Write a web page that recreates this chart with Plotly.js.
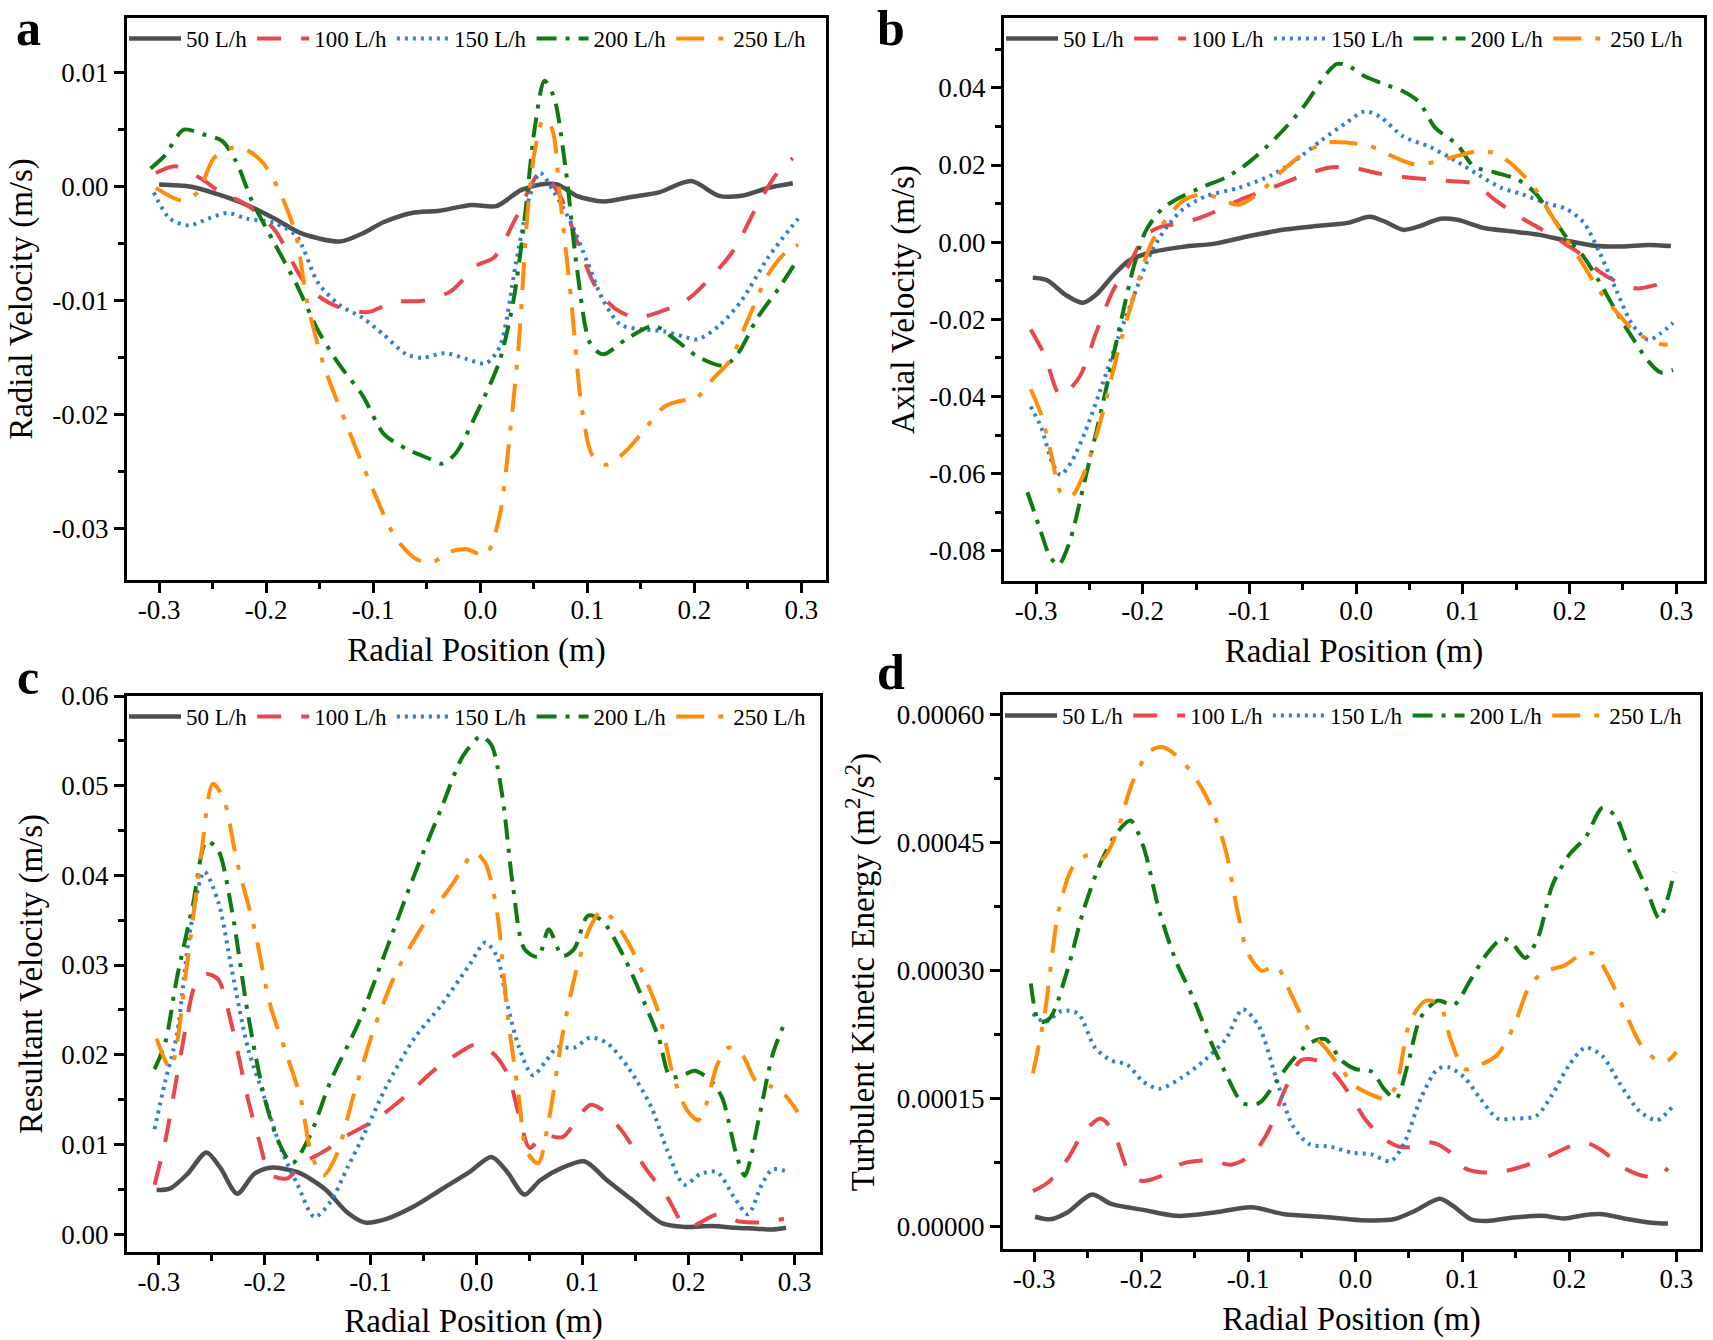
<!DOCTYPE html>
<html>
<head>
<meta charset="utf-8">
<script src="https://cdn.plot.ly/plotly-3.0.1.min.js"></script>
<style>html,body{margin:0;padding:0;background:#fff;overflow:hidden;}#chart{width:1713px;height:1340px;}</style>
</head>
<body>
<div id="chart"></div>
<script>
// ---------- series names ----------
const seriesNames = ["50 L/h", "100 L/h", "150 L/h", "200 L/h", "250 L/h"];

// ---------- tick labels ----------
const xTickVals = [-0.3, -0.2, -0.1, 0.0, 0.1, 0.2, 0.3];
const xTickText = ["-0.3", "-0.2", "-0.1", "0.0", "0.1", "0.2", "0.3"];
const aTickVals = [-0.03, -0.02, -0.01, 0.0, 0.01];
const aTickText = ["-0.03", "-0.02", "-0.01", "0.00", "0.01"];
const bTickVals = [-0.08, -0.06, -0.04, -0.02, 0.0, 0.02, 0.04];
const bTickText = ["-0.08", "-0.06", "-0.04", "-0.02", "0.00", "0.02", "0.04"];
const cTickVals = [0.0, 0.01, 0.02, 0.03, 0.04, 0.05, 0.06];
const cTickText = ["0.00", "0.01", "0.02", "0.03", "0.04", "0.05", "0.06"];
const dTickVals = [0.0, 0.00015, 0.0003, 0.00045, 0.0006];
const dTickText = ["0.00000", "0.00015", "0.00030", "0.00045", "0.00060"];

// ---------- panel a : Radial velocity ----------
const a50x = [-0.300,-0.270,-0.244,-0.218,-0.192,-0.167,-0.131,-0.110,-0.090,-0.064,-0.038,-0.008,0.015,0.038,0.056,0.072,0.090,0.115,0.141,0.167,0.197,0.223,0.244,0.269,0.292];
const a50y = [0.0002,0.0000,-0.0007,-0.0016,-0.0028,-0.0041,-0.0048,-0.0041,-0.0031,-0.0023,-0.0021,-0.0016,-0.0017,-0.0003,0.0002,0.0002,-0.0008,-0.0013,-0.0009,-0.0005,0.0005,-0.0008,-0.0008,-0.0001,0.0003];
const a100x = [-0.303,-0.285,-0.259,-0.244,-0.218,-0.192,-0.167,-0.151,-0.131,-0.105,-0.080,-0.054,-0.028,-0.003,0.013,0.033,0.056,0.074,0.090,0.108,0.126,0.146,0.167,0.192,0.218,0.238,0.259,0.279,0.292];
const a100y = [0.0012,0.0018,0.0006,-0.0004,-0.0016,-0.0038,-0.0080,-0.0096,-0.0106,-0.0110,-0.0101,-0.0100,-0.0092,-0.0069,-0.0062,-0.0028,0.0012,-0.0007,-0.0047,-0.0088,-0.0107,-0.0115,-0.0110,-0.0100,-0.0077,-0.0054,-0.0016,0.0014,0.0025];
const a150x = [-0.305,-0.290,-0.272,-0.254,-0.236,-0.218,-0.192,-0.172,-0.151,-0.131,-0.110,-0.090,-0.069,-0.054,-0.033,-0.013,0.005,0.018,0.033,0.046,0.056,0.069,0.085,0.100,0.115,0.131,0.151,0.172,0.192,0.203,0.223,0.244,0.269,0.297];
const a150y = [-0.0005,-0.0028,-0.0034,-0.0028,-0.0023,-0.0028,-0.0032,-0.0043,-0.0085,-0.0104,-0.0115,-0.0130,-0.0147,-0.0150,-0.0146,-0.0151,-0.0155,-0.0141,-0.0069,-0.0009,0.0012,-0.0005,-0.0032,-0.0066,-0.0100,-0.0121,-0.0125,-0.0127,-0.0132,-0.0134,-0.0122,-0.0100,-0.0062,-0.0028];
const a200x = [-0.308,-0.295,-0.277,-0.259,-0.241,-0.228,-0.213,-0.192,-0.172,-0.151,-0.131,-0.110,-0.090,-0.069,-0.049,-0.036,-0.023,-0.003,0.018,0.031,0.041,0.051,0.060,0.069,0.080,0.090,0.103,0.115,0.136,0.162,0.182,0.203,0.228,0.241,0.259,0.279,0.295];
const a200y = [0.0016,0.0027,0.0050,0.0046,0.0040,0.0022,-0.0013,-0.0050,-0.0085,-0.0127,-0.0157,-0.0183,-0.0217,-0.0230,-0.0238,-0.0243,-0.0234,-0.0198,-0.0153,-0.0100,-0.0032,0.0052,0.0093,0.0078,0.0014,-0.0069,-0.0138,-0.0147,-0.0134,-0.0122,-0.0134,-0.0149,-0.0157,-0.0146,-0.0115,-0.0089,-0.0066];
const a250x = [-0.303,-0.279,-0.264,-0.249,-0.233,-0.218,-0.203,-0.187,-0.172,-0.162,-0.146,-0.126,-0.105,-0.079,-0.059,-0.044,-0.028,-0.013,0.005,0.018,0.028,0.036,0.044,0.051,0.059,0.067,0.074,0.085,0.095,0.105,0.118,0.136,0.156,0.172,0.192,0.200,0.218,0.233,0.249,0.269,0.285,0.297];
const a250y = [-0.0001,-0.0012,-0.0005,0.0025,0.0034,0.0032,0.0021,-0.0005,-0.0043,-0.0100,-0.0157,-0.0206,-0.0255,-0.0308,-0.0327,-0.0329,-0.0320,-0.0318,-0.0323,-0.0289,-0.0214,-0.0138,-0.0025,0.0032,0.0059,0.0051,-0.0005,-0.0100,-0.0195,-0.0236,-0.0244,-0.0232,-0.0210,-0.0193,-0.0187,-0.0187,-0.0168,-0.0153,-0.0119,-0.0077,-0.0058,-0.0051];

// ---------- panel b : Axial velocity ----------
const b50x = [-0.303,-0.290,-0.272,-0.256,-0.244,-0.228,-0.213,-0.192,-0.162,-0.131,-0.100,-0.069,-0.033,-0.008,0.013,0.028,0.044,0.059,0.079,0.095,0.121,0.146,0.172,0.197,0.223,0.249,0.274,0.295];
const b50y = [-0.0092,-0.0098,-0.0137,-0.0157,-0.0137,-0.0087,-0.0048,-0.0026,-0.0012,-0.0003,0.0016,0.0032,0.0043,0.0050,0.0066,0.0052,0.0032,0.0041,0.0061,0.0058,0.0036,0.0028,0.0019,0.0004,-0.0009,-0.0011,-0.0007,-0.0010];
const b100x = [-0.305,-0.292,-0.277,-0.259,-0.244,-0.228,-0.213,-0.197,-0.182,-0.162,-0.141,-0.110,-0.079,-0.049,-0.023,-0.003,0.023,0.044,0.069,0.090,0.110,0.131,0.151,0.172,0.192,0.208,0.228,0.249,0.264,0.279,0.295];
const b100y = [-0.0226,-0.0292,-0.0398,-0.0348,-0.0237,-0.0126,-0.0059,0.0019,0.0041,0.0050,0.0069,0.0108,0.0141,0.0174,0.0194,0.0193,0.0177,0.0169,0.0163,0.0158,0.0152,0.0108,0.0069,0.0036,0.0002,-0.0026,-0.0076,-0.0109,-0.0120,-0.0112,-0.0098];
const b150x = [-0.305,-0.295,-0.285,-0.277,-0.267,-0.254,-0.238,-0.223,-0.208,-0.192,-0.177,-0.162,-0.141,-0.110,-0.079,-0.059,-0.033,-0.010,0.008,0.023,0.044,0.069,0.095,0.115,0.136,0.156,0.177,0.197,0.213,0.228,0.244,0.259,0.274,0.285,0.297];
const b150y = [-0.0426,-0.0481,-0.0570,-0.0603,-0.0570,-0.0492,-0.0370,-0.0248,-0.0137,-0.0026,0.0041,0.0086,0.0119,0.0141,0.0174,0.0208,0.0263,0.0308,0.0339,0.0324,0.0274,0.0247,0.0208,0.0174,0.0141,0.0124,0.0102,0.0086,0.0052,-0.0026,-0.0126,-0.0214,-0.0253,-0.0237,-0.0209];
const b200x = [-0.308,-0.297,-0.287,-0.279,-0.269,-0.254,-0.238,-0.223,-0.208,-0.197,-0.182,-0.167,-0.146,-0.121,-0.100,-0.074,-0.049,-0.028,-0.018,-0.008,0.008,0.028,0.044,0.059,0.074,0.095,0.110,0.131,0.151,0.167,0.182,0.197,0.213,0.228,0.244,0.259,0.274,0.285,0.297];
const b200y = [-0.0648,-0.0737,-0.0814,-0.0837,-0.0781,-0.0614,-0.0426,-0.0237,-0.0059,0.0030,0.0086,0.0113,0.0141,0.0169,0.0208,0.0274,0.0352,0.0436,0.0462,0.0458,0.0430,0.0408,0.0391,0.0363,0.0297,0.0252,0.0197,0.0180,0.0163,0.0130,0.0074,0.0013,-0.0037,-0.0103,-0.0181,-0.0248,-0.0309,-0.0337,-0.0331];
const b250x = [-0.305,-0.295,-0.285,-0.277,-0.267,-0.254,-0.238,-0.223,-0.208,-0.192,-0.177,-0.162,-0.146,-0.131,-0.110,-0.090,-0.069,-0.049,-0.028,-0.008,0.013,0.033,0.054,0.074,0.095,0.115,0.131,0.146,0.167,0.182,0.197,0.213,0.228,0.244,0.259,0.274,0.285,0.292];
const b250y = [-0.0381,-0.0448,-0.0559,-0.0648,-0.0659,-0.0592,-0.0448,-0.0281,-0.0137,-0.0003,0.0063,0.0108,0.0124,0.0117,0.0097,0.0130,0.0186,0.0230,0.0258,0.0258,0.0249,0.0224,0.0202,0.0208,0.0224,0.0236,0.0230,0.0202,0.0141,0.0074,0.0008,-0.0059,-0.0126,-0.0181,-0.0226,-0.0253,-0.0264,-0.0266];

// ---------- panel c : Resultant velocity ----------
const c50x = [-0.302,-0.289,-0.273,-0.255,-0.242,-0.226,-0.210,-0.195,-0.169,-0.143,-0.122,-0.106,-0.085,-0.059,-0.033,-0.007,0.014,0.029,0.045,0.060,0.081,0.102,0.123,0.149,0.175,0.196,0.222,0.243,0.264,0.279,0.292];
const c50y = [0.0049,0.0051,0.0067,0.0091,0.0074,0.0045,0.0067,0.0074,0.0069,0.0050,0.0024,0.0013,0.0017,0.0031,0.0050,0.0069,0.0086,0.0069,0.0044,0.0060,0.0074,0.0081,0.0060,0.0036,0.0012,0.0008,0.0009,0.0007,0.0006,0.0005,0.0007];
const c100x = [-0.304,-0.294,-0.278,-0.265,-0.255,-0.244,-0.231,-0.216,-0.205,-0.195,-0.179,-0.164,-0.143,-0.122,-0.096,-0.065,-0.039,-0.018,-0.002,0.014,0.029,0.040,0.050,0.063,0.081,0.097,0.107,0.118,0.139,0.159,0.180,0.196,0.206,0.227,0.248,0.269,0.290];
const c100y = [0.0055,0.0103,0.0208,0.0280,0.0290,0.0284,0.0232,0.0151,0.0103,0.0067,0.0062,0.0079,0.0093,0.0110,0.0127,0.0156,0.0184,0.0201,0.0211,0.0203,0.0179,0.0132,0.0096,0.0110,0.0108,0.0132,0.0144,0.0139,0.0112,0.0074,0.0041,0.0010,0.0010,0.0022,0.0014,0.0013,0.0017];
const c150x = [-0.304,-0.294,-0.283,-0.270,-0.257,-0.244,-0.231,-0.216,-0.200,-0.184,-0.169,-0.153,-0.138,-0.122,-0.106,-0.085,-0.059,-0.033,-0.007,0.008,0.019,0.029,0.040,0.053,0.066,0.076,0.092,0.107,0.123,0.144,0.165,0.180,0.196,0.211,0.227,0.243,0.256,0.269,0.279,0.295];
const c150y = [0.0117,0.0170,0.0222,0.0342,0.0404,0.0371,0.0294,0.0208,0.0151,0.0093,0.0055,0.0019,0.0036,0.0074,0.0112,0.0165,0.0218,0.0256,0.0300,0.0325,0.0310,0.0256,0.0208,0.0177,0.0194,0.0208,0.0208,0.0219,0.0213,0.0184,0.0141,0.0093,0.0055,0.0067,0.0069,0.0041,0.0022,0.0055,0.0072,0.0069];
const c200x = [-0.304,-0.294,-0.283,-0.268,-0.255,-0.244,-0.231,-0.216,-0.200,-0.187,-0.174,-0.158,-0.138,-0.111,-0.085,-0.059,-0.033,-0.013,0.004,0.014,0.024,0.034,0.045,0.058,0.068,0.081,0.092,0.105,0.118,0.139,0.159,0.172,0.183,0.196,0.206,0.222,0.232,0.245,0.253,0.266,0.279,0.290];
const c200y = [0.0184,0.0213,0.0285,0.0366,0.0438,0.0428,0.0361,0.0246,0.0151,0.0103,0.0079,0.0108,0.0170,0.0237,0.0318,0.0400,0.0476,0.0533,0.0555,0.0545,0.0490,0.0390,0.0318,0.0309,0.0340,0.0310,0.0318,0.0355,0.0350,0.0309,0.0256,0.0218,0.0175,0.0178,0.0182,0.0170,0.0151,0.0089,0.0065,0.0127,0.0199,0.0234];
const c250x = [-0.302,-0.289,-0.273,-0.260,-0.249,-0.239,-0.226,-0.210,-0.195,-0.179,-0.166,-0.156,-0.145,-0.132,-0.117,-0.096,-0.075,-0.049,-0.023,-0.002,0.008,0.019,0.029,0.040,0.047,0.058,0.068,0.081,0.094,0.107,0.118,0.128,0.144,0.159,0.172,0.185,0.198,0.209,0.217,0.227,0.238,0.251,0.264,0.277,0.290,0.303];
const c250y = [0.0218,0.0185,0.0304,0.0423,0.0502,0.0486,0.0414,0.0342,0.0256,0.0199,0.0151,0.0089,0.0065,0.0089,0.0151,0.0232,0.0294,0.0347,0.0390,0.0425,0.0414,0.0361,0.0246,0.0151,0.0093,0.0079,0.0127,0.0222,0.0294,0.0342,0.0361,0.0352,0.0323,0.0285,0.0246,0.0179,0.0139,0.0127,0.0146,0.0189,0.0208,0.0199,0.0170,0.0165,0.0156,0.0136];

// ---------- panel d : Turbulent kinetic energy ----------
const d50x = [-0.299,-0.285,-0.269,-0.246,-0.228,-0.198,-0.167,-0.131,-0.097,-0.066,-0.031,0.005,0.036,0.056,0.079,0.092,0.108,0.123,0.148,0.174,0.195,0.215,0.231,0.251,0.277,0.292];
const d50y = [0.000012,0.000009,0.000017,0.000038,0.000027,0.000020,0.000013,0.000017,0.000023,0.000015,0.000012,0.000008,0.000009,0.000019,0.000033,0.000024,0.000009,0.000007,0.000011,0.000013,0.000010,0.000014,0.000015,0.000010,0.000005,0.000004];
const d100x = [-0.301,-0.287,-0.269,-0.254,-0.238,-0.226,-0.213,-0.200,-0.183,-0.162,-0.136,-0.116,-0.097,-0.082,-0.066,-0.051,-0.036,-0.020,-0.005,0.010,0.026,0.041,0.056,0.071,0.087,0.102,0.117,0.138,0.159,0.179,0.200,0.215,0.231,0.251,0.272,0.284,0.292];
const d100y = [0.000042,0.000052,0.000079,0.000110,0.000127,0.000112,0.000069,0.000054,0.000059,0.000074,0.000078,0.000073,0.000084,0.000110,0.000160,0.000195,0.000195,0.000180,0.000155,0.000125,0.000104,0.000094,0.000094,0.000099,0.000089,0.000069,0.000064,0.000065,0.000072,0.000082,0.000094,0.000099,0.000089,0.000069,0.000059,0.000059,0.000069];
const d150x = [-0.301,-0.290,-0.274,-0.259,-0.243,-0.228,-0.213,-0.198,-0.183,-0.162,-0.141,-0.121,-0.105,-0.090,-0.074,-0.059,-0.043,-0.023,-0.003,0.015,0.033,0.046,0.061,0.077,0.087,0.102,0.117,0.133,0.148,0.169,0.184,0.200,0.215,0.231,0.246,0.266,0.282,0.297];
const d150y = [0.000250,0.000240,0.000253,0.000250,0.000210,0.000195,0.000190,0.000170,0.000162,0.000175,0.000195,0.000220,0.000255,0.000235,0.000175,0.000120,0.000097,0.000094,0.000087,0.000085,0.000077,0.000099,0.000150,0.000185,0.000187,0.000175,0.000150,0.000127,0.000127,0.000130,0.000155,0.000190,0.000210,0.000200,0.000170,0.000135,0.000125,0.000142];
const d200x = [-0.303,-0.295,-0.285,-0.269,-0.254,-0.238,-0.223,-0.210,-0.198,-0.183,-0.167,-0.152,-0.136,-0.121,-0.105,-0.090,-0.074,-0.059,-0.043,-0.028,-0.013,0.000,0.015,0.028,0.038,0.049,0.061,0.077,0.092,0.108,0.123,0.138,0.148,0.159,0.171,0.184,0.200,0.215,0.231,0.243,0.256,0.272,0.284,0.292,0.298];
const d200y = [0.000285,0.000240,0.000245,0.000300,0.000370,0.000426,0.000461,0.000476,0.000446,0.000370,0.000310,0.000270,0.000220,0.000180,0.000145,0.000145,0.000170,0.000195,0.000215,0.000220,0.000195,0.000185,0.000182,0.000160,0.000150,0.000190,0.000245,0.000265,0.000260,0.000290,0.000320,0.000338,0.000330,0.000315,0.000340,0.000400,0.000436,0.000456,0.000491,0.000481,0.000441,0.000396,0.000361,0.000386,0.000416];
const d250x = [-0.301,-0.290,-0.277,-0.264,-0.249,-0.236,-0.223,-0.208,-0.192,-0.180,-0.167,-0.152,-0.136,-0.121,-0.110,-0.100,-0.087,-0.074,-0.059,-0.043,-0.028,-0.013,0.000,0.015,0.028,0.038,0.051,0.066,0.079,0.089,0.102,0.117,0.133,0.148,0.164,0.179,0.195,0.210,0.223,0.236,0.251,0.266,0.282,0.292,0.300];
const d250y = [0.000180,0.000250,0.000370,0.000421,0.000436,0.000431,0.000461,0.000521,0.000557,0.000562,0.000552,0.000531,0.000496,0.000441,0.000370,0.000320,0.000300,0.000306,0.000270,0.000230,0.000210,0.000185,0.000165,0.000155,0.000150,0.000165,0.000240,0.000265,0.000260,0.000220,0.000185,0.000190,0.000202,0.000235,0.000285,0.000300,0.000306,0.000318,0.000320,0.000295,0.000255,0.000215,0.000195,0.000195,0.000205];

// ---------- styles ----------
const FONT = 'Liberation Serif, Times New Roman, Times, serif';
const TICK_SIZE = 27, TITLE_SIZE = 33, LEGEND_SIZE = 23;
const lineStyles = [
  {color: '#4f4f4f', width: 4.5, dash: 'solid'},
  {color: '#e8474c', width: 4, dash: '24px,20px'},
  {color: '#2f7ed8', width: 4, dash: '3px,5px'},
  {color: '#0f7a12', width: 4, dash: '20px,9px,4px,9px'},
  {color: '#ff8c0a', width: 4, dash: '28px,14px,5px,14px'}
];

const panels = [
  {key: 'a', xs: [a50x, a100x, a150x, a200x, a250x], ys: [a50y, a100y, a150y, a200y, a250y]},
  {key: 'b', xs: [b50x, b100x, b150x, b200x, b250x], ys: [b50y, b100y, b150y, b200y, b250y]},
  {key: 'c', xs: [c50x, c100x, c150x, c200x, c250x], ys: [c50y, c100y, c150y, c200y, c250y]},
  {key: 'd', xs: [d50x, d100x, d150x, d200x, d250x], ys: [d50y, d100y, d150y, d200y, d250y]}
];

const traces = [];
panels.forEach((p, pi) => {
  const ax = pi === 0 ? '' : String(pi + 1);
  const lg = pi === 0 ? 'legend' : 'legend' + (pi + 1);
  for (let s = 0; s < 5; s++) {
    traces.push({
      type: 'scatter', mode: 'lines',
      x: p.xs[s], y: p.ys[s],
      name: seriesNames[s],
      xaxis: 'x' + ax, yaxis: 'y' + ax,
      legend: lg,
      line: Object.assign({shape: 'spline', smoothing: 0.8}, lineStyles[s]),
      hoverinfo: 'skip'
    });
  }
});

const W = 1713, H = 1340;
function dx(a, b) { return [a / W, b / W]; }
function dy(top, bottom) { return [1 - bottom / H, 1 - top / H]; }

const dom = {
  a: {x: dx(127, 826), y: dy(18, 580)},
  b: {x: dx(1004, 1704), y: dy(18, 581)},
  c: {x: dx(127, 820), y: dy(696, 1252)},
  d: {x: dx(1003, 1700), y: dy(695, 1249)}
};

function xAxis(domain, range, anchor) {
  return {
    domain: domain, range: range, anchor: anchor,
    tickmode: 'array', tickvals: xTickVals, ticktext: xTickText,
    ticks: 'outside', ticklen: 10, tickwidth: 3, tickcolor: '#000',
    ticklabelstandoff: -6,
    minor: {dtick: 0.05, tick0: 0, ticks: 'outside', ticklen: 6, tickwidth: 3, tickcolor: '#000'},
    showline: true, linewidth: 3, linecolor: '#000', mirror: true,
    showgrid: false, zeroline: false,
    tickfont: {family: FONT, size: TICK_SIZE, color: '#000'},
    title: {text: 'Radial Position (m)', font: {family: FONT, size: TITLE_SIZE, color: '#000'}, standoff: 14},
    automargin: false
  };
}
function yAxis(domain, range, anchor, vals, text, minorStep, title, standoff) {
  return {
    domain: domain, range: range, anchor: anchor,
    tickmode: 'array', tickvals: vals, ticktext: text,
    ticks: 'outside', ticklen: 10, tickwidth: 3, tickcolor: '#000',
    minor: {dtick: minorStep, tick0: 0, ticks: 'outside', ticklen: 6, tickwidth: 3, tickcolor: '#000'},
    showline: true, linewidth: 3, linecolor: '#000', mirror: true,
    showgrid: false, zeroline: false,
    tickfont: {family: FONT, size: TICK_SIZE, color: '#000'},
    title: {text: title, font: {family: FONT, size: TITLE_SIZE, color: '#000'}, standoff: standoff},
    automargin: false
  };
}
function legendAt(d) {
  return {
    orientation: 'h', x: d.x[0] - 3 / W, y: d.y[1] + 1 / H, xanchor: 'left', yanchor: 'top',
    font: {family: FONT, size: LEGEND_SIZE, color: '#000'}, bgcolor: 'rgba(0,0,0,0)', borderwidth: 0,
    itemwidth: 52, tracegroupgap: 0, itemclick: false
  };
}
function panelLabel(txt, x, y) {
  return {text: '<b>' + txt + '</b>', xref: 'paper', yref: 'paper', x: x / W, y: 1 - y / H,
    xanchor: 'center', yanchor: 'middle', showarrow: false,
    font: {family: FONT, size: 50, color: '#000'}};
}

const layout = {
  width: W, height: H,
  margin: {l: 0, r: 0, t: 0, b: 0},
  paper_bgcolor: '#fff', plot_bgcolor: '#fff',
  showlegend: true,
  xaxis: xAxis(dom.a.x, [-0.330, 0.323], 'y'),
  yaxis: yAxis(dom.a.y, [-0.0345, 0.0148], 'x', aTickVals, aTickText, 0.005, 'Radial Velocity (m/s)', 10),
  xaxis2: xAxis(dom.b.x, [-0.330, 0.326], 'y2'),
  yaxis2: yAxis(dom.b.y, [-0.0878, 0.0581], 'x2', bTickVals, bTickText, 0.01, 'Axial Velocity (m/s)', 5),
  xaxis3: xAxis(dom.c.x, [-0.330, 0.324], 'y3'),
  yaxis3: yAxis(dom.c.y, [-0.002, 0.060], 'x3', cTickVals, cTickText, 0.005, 'Resultant Velocity (m/s)', 9),
  xaxis4: xAxis(dom.d.x, [-0.329, 0.322], 'y4'),
  yaxis4: yAxis(dom.d.y, [-0.0000258, 0.000623], 'x4', dTickVals, dTickText, 0.000075, 'Turbulent Kinetic Energy (m<sup>2</sup>/s<sup>2</sup>)', 13),
  legend: legendAt(dom.a),
  legend2: legendAt(dom.b),
  legend3: legendAt(dom.c),
  legend4: legendAt(dom.d),
  annotations: [
    panelLabel('a', 28, 28),
    panelLabel('b', 891, 28),
    panelLabel('c', 28, 677),
    panelLabel('d', 891, 672)
  ]
};

Plotly.newPlot('chart', traces, layout, {displayModeBar: false, staticPlot: true});
</script>
</body>
</html>
